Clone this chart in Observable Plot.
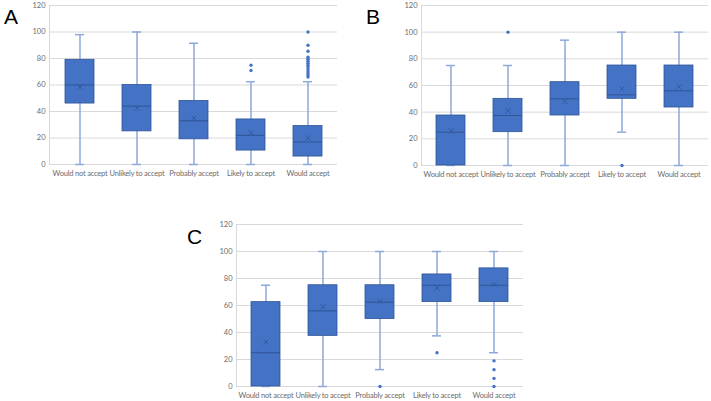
<!DOCTYPE html>
<html>
<head>
<meta charset="utf-8">
<script src="https://cdn.jsdelivr.net/npm/d3@7"></script>
<script src="https://cdn.jsdelivr.net/npm/@observablehq/plot@0.6"></script>
<style>
  html, body { margin: 0; padding: 0; background: #fff; }
  #root { position: relative; width: 711px; height: 401px; overflow: hidden; font-family: Lato, "Open Sans", sans-serif; }
  .panel { position: absolute; }
  .tag { position: absolute; font-family: "Liberation Sans", Arial, sans-serif; font-size: 21px; color: #000; line-height: 1; }
  .panel svg g[aria-label="x-axis tick label"] text { letter-spacing: -0.2px; }
</style>
</head>
<body>
<div id="root"></div>
<script>
const categories = ["Would not accept", "Unlikely to accept", "Probably accept", "Likely to accept", "Would accept"];
const yTicks = [0, 20, 40, 60, 80, 100, 120];

// Panel A
const aLow    = [0, 0, 0, 0, 0];
const aQ1     = [46, 25, 19, 10.5, 6];
const aMedian = [60, 44, 33, 22, 17];
const aQ3     = [79, 60, 48, 34, 29];
const aHigh   = [98, 100, 91.5, 62.5, 62.5];
const aMean   = [58.5, 42.5, 35, 24, 20];
const aOutCat = ["Likely to accept", "Likely to accept",
  "Would accept", "Would accept", "Would accept", "Would accept", "Would accept", "Would accept", "Would accept",
  "Would accept", "Would accept", "Would accept", "Would accept", "Would accept", "Would accept", "Would accept"];
const aOutVal = [71, 75, 100, 90, 85.5, 81, 79.5, 78, 76.5, 75, 73.5, 72, 70.5, 69, 67.5, 66];

// Panel B
const bLow    = [0, 0, 0, 25, 0];
const bQ1     = [0, 25, 37.5, 50, 43.5];
const bMedian = [25, 37.5, 50, 53, 56];
const bQ3     = [37.5, 50, 62.5, 75, 75];
const bHigh   = [75, 75, 94, 100, 100];
const bMean   = [26, 41, 48, 57.5, 59];
const bOutCat = ["Unlikely to accept", "Likely to accept"];
const bOutVal = [100, 0];

// Panel C
const cLow    = [0, 0, 12.5, 37.5, 25];
const cQ1     = [0, 37.5, 50, 62.5, 62.5];
const cMedian = [25, 56, 62.5, 75, 75];
const cQ3     = [62.5, 75, 75, 83, 87.5];
const cHigh   = [75, 100, 100, 100, 100];
const cMean   = [33, 59, 63, 73, 75.5];
const cOutCat = ["Probably accept", "Likely to accept", "Would accept", "Would accept", "Would accept", "Would accept"];
const cOutVal = [0, 25, 0, 6, 12.5, 19];

function boxTable(low, q1, med, q3, high, mean) {
  return categories.map((c, i) => ({cat: c, low: low[i], q1: q1[i], med: med[i], q3: q3[i], high: high[i], mean: mean[i]}));
}
function outTable(cats, vals) {
  return cats.map((c, i) => ({cat: c, v: vals[i]}));
}

const BOX = "#4472C4", EDGE = "#2F5597", WHISK = "#8EA9DB", GRID = "#D9D9D9", TEXT = "#6b6b6b";

function makeBox(rows, outs, o) {
  return Plot.plot({
    width: o.width, height: o.height,
    marginLeft: o.ml, marginRight: o.mr, marginTop: o.mt, marginBottom: o.mb,
    style: {fontFamily: "Lato, 'Open Sans', sans-serif", fontSize: "7.5px", color: TEXT, background: "transparent"},
    x: {domain: categories, paddingInner: 0.5, paddingOuter: 0.25, label: null, tickSize: 0, tickPadding: 6},
    y: {domain: [0, 120], ticks: yTicks, label: null, tickSize: 0, tickPadding: 4},
    marks: [
      Plot.gridY(yTicks, {stroke: GRID, strokeOpacity: 1}),
      Plot.frame({anchor: "left", stroke: GRID, strokeOpacity: 1}),
      Plot.ruleX(rows, {x: "cat", y1: "low", y2: "high", stroke: WHISK, strokeWidth: 1.5}),
      Plot.tickY(rows, {x: "cat", y: "high", stroke: WHISK, strokeWidth: 1.5, insetLeft: 10, insetRight: 10}),
      Plot.tickY(rows, {x: "cat", y: "low", stroke: WHISK, strokeWidth: 1.5, insetLeft: 10, insetRight: 10}),
      Plot.barY(rows, {x: "cat", y1: "q1", y2: "q3", fill: BOX, stroke: EDGE, strokeWidth: 0.8}),
      Plot.tickY(rows, {x: "cat", y: "med", stroke: EDGE, strokeWidth: 1}),
      Plot.dot(rows, {x: "cat", y: "mean", symbol: "times", r: 2.5, stroke: EDGE, strokeWidth: 0.8}),
      Plot.dot(outs, {x: "cat", y: "v", r: 1.7, fill: BOX, stroke: "none"})
    ]
  });
}

const root = document.getElementById("root");
function place(node, left, top) {
  const d = document.createElement("div");
  d.className = "panel";
  d.style.left = left + "px";
  d.style.top = top + "px";
  d.appendChild(node);
  root.appendChild(d);
}
function tag(text, left, top) {
  const t = document.createElement("div");
  t.className = "tag";
  t.textContent = text;
  t.style.left = left + "px";
  t.style.top = top + "px";
  root.appendChild(t);
}

place(makeBox(boxTable(aLow, aQ1, aMedian, aQ3, aHigh, aMean), outTable(aOutCat, aOutVal),
  {width: 345, height: 185, ml: 49, mr: 8, mt: 5, mb: 21}), 0, 0);
place(makeBox(boxTable(bLow, bQ1, bMedian, bQ3, bHigh, bMean), outTable(bOutCat, bOutVal),
  {width: 356, height: 185, ml: 66, mr: 3, mt: 5, mb: 20}), 355, 0);
place(makeBox(boxTable(cLow, cQ1, cMedian, cQ3, cHigh, cMean), outTable(cOutCat, cOutVal),
  {width: 380, height: 201, ml: 86, mr: 7, mt: 24, mb: 15}), 150, 200);

tag("A", 4, 6);
tag("B", 366, 6);
tag("C", 187, 226);
</script>
</body>
</html>
